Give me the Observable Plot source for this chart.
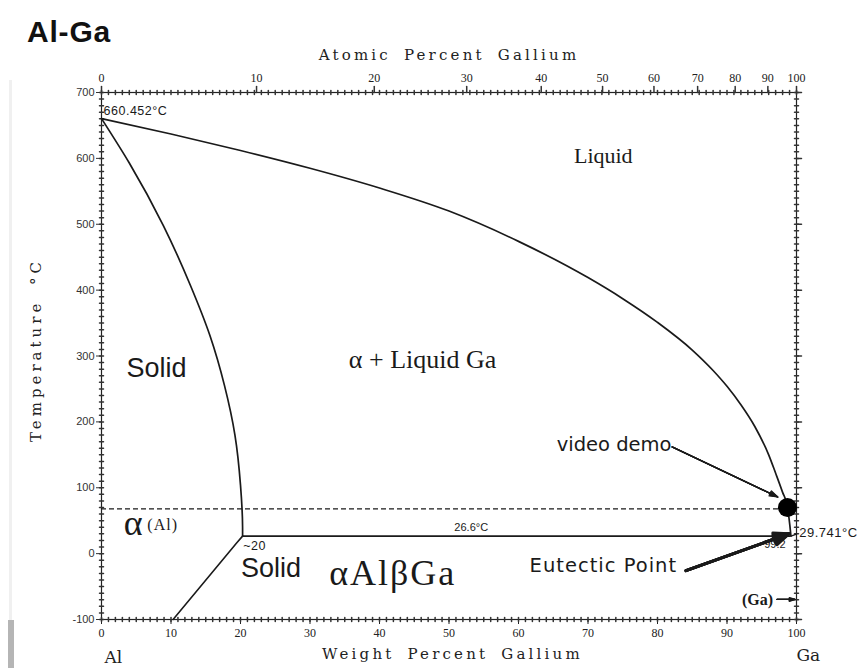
<!DOCTYPE html>
<html><head><meta charset="utf-8">
<script src="https://cdn.jsdelivr.net/npm/d3@7"></script>
<script src="https://cdn.jsdelivr.net/npm/@observablehq/plot@0.6"></script>
<style>
html,body{margin:0;padding:0;background:#fff;}
#wrap{position:relative;width:860px;height:668px;overflow:hidden;background:#fff;}
#title{position:absolute;left:27px;top:17px;font:bold 30px "Liberation Sans",sans-serif;line-height:30px;color:#111;letter-spacing:0.8px;}
#strip{position:absolute;left:8px;top:620px;width:6px;height:48px;background:#b5b5b5;}
#strip2{position:absolute;left:9px;top:80px;width:3px;height:540px;background:#f0f0f0;}
.spaced text{letter-spacing:3.2px;word-spacing:5px;}
.spacedY text{letter-spacing:4px;word-spacing:6px;}
.wide text{letter-spacing:2px;}
.sp05 text{letter-spacing:0.5px;}
.sp1 text{letter-spacing:1px;}
</style></head><body>
<div id="wrap"><div id="strip2"></div><div id="strip"></div><div id="title">Al-Ga</div><div id="chart"></div></div>
<script>
// ---- data ----
const yMajor = [-100, 0, 100, 200, 300, 400, 500, 600, 700];
const yMinor = d3.range(-100, 701, 10);
const wtMajor = [0, 10, 20, 30, 40, 50, 60, 70, 80, 90, 100];
const wtMinor = d3.range(0, 101, 1);
const atMajor = [0, 10, 20, 30, 40, 50, 60, 70, 80, 90, 100];
const massGa = 69.723, massAl = 26.982;
const toWt = a => 100 * a * massGa / (a * massGa + (100 - a) * massAl);

// liquidus (wt% Ga, °C)
const liqW = [0, 10, 20, 30, 40, 50, 60, 70, 75, 80, 85, 88, 90, 92, 94, 96, 97, 98, 98.7, 99.05, 99.2];
const liqT = [660.452, 637, 612, 585, 555, 520, 474, 419, 387, 351, 309, 278, 254, 226, 193, 150, 122, 93, 71, 42, 26.6];
// boundary of (Al) solid solution (ordered by temperature, low to high)
const solT = [26.6, 40, 104, 180, 255, 331, 407, 498, 593, 660.452];
const solW = [20.3, 20.3, 20.0, 19.2, 17.7, 15.6, 12.8, 8.9, 4.0, 0];
// low-temperature boundary
const lowW = [20.3, 19.5, 10.3];
const lowT = [26.6, 17, -100];
// eutectic
const eutT = 26.6, eutW1 = 20.3, eutW2 = 99.2;
const gaMeltT = 29.741;
const dashT = 68, dashW2 = 97.8;
const demoDot = [{w: 98.7, t: 70}];

const liquidus = liqW.map((w, i) => ({w, t: liqT[i]}));
const solvus = solW.map((w, i) => ({w, t: solT[i]}));
const lower = lowW.map((w, i) => ({w, t: lowT[i]}));
const gaSeg = [{w: eutW2, t: eutT}, {w: 100, t: gaMeltT}];

const arrowsThin = [
  {x1: 82.1, y1: 162, x2: 97.3, y2: 86},
  {x1: 97.2, y1: -69.5, x2: 99.8, y2: -69.5}
];
const arrowsThick = [{x1: 84.1, y1: -25.8, x2: 98.9, y2: 30}];
const headAngles = [36, 26, 16, 6];

const startLabels = [
  {w: 0.3, t: 672, s: "660.452°C"},
  {w: 20.4, t: 11, s: "~20"}
];
const midLabels = [
  {w: 53.2, t: 40, s: "26.6°C"},
  {w: 96.9, t: 14, s: "99.2"}
];
const gaMeltLabel = [{w: 100.4, t: 32, s: "29.741°C"}];
const solidLabels = [{w: 7.9, t: 281, s: "Solid"}, {w: 24.4, t: -23, s: "Solid"}];
const serifLabels = [
  {w: 72.2, t: 603, s: "Liquid", size: 22},
  {w: 46.2, t: 294, s: "α + Liquid Ga", size: 26}
];
const comicLabels = [
  {w: 65.5, t: 166, s: "video demo", sp: 0},
  {w: 61.6, t: -18, s: "Eutectic Point", sp: 1}
];
const alphaAl = [{w: 3.2, t: 46, s: "α"}];
const alphaAlSub = [{w: 6.6, t: 44, s: "(Al)"}];
const phaseLabel = [{w: 41.9, t: -30, s: "αAlβGa"}];
const gaLabel = [{w: 94.4, t: -69.5, s: "(Ga)"}];

// ---- chart ----
const tickShape = {draw(ctx, l) { ctx.moveTo(0, 0); ctx.lineTo(0, -l); }};
const ink = "#1a1a1a";

const arrowMarks = headAngles.flatMap(a => [
  Plot.arrow(arrowsThin, {x1: "x1", y1: "y1", x2: "x2", y2: "y2", stroke: ink, strokeWidth: 1.3, headLength: 10, headAngle: a}),
  Plot.arrow(arrowsThick, {x1: "x1", y1: "y1", x2: "x2", y2: "y2", stroke: ink, strokeWidth: 3, headLength: 8, headAngle: a + 10})
]);

const chart = Plot.plot({
  width: 860, height: 668,
  marginLeft: 101, marginRight: 64, marginTop: 92, marginBottom: 49,
  x: {domain: [0, 100], axis: null},
  y: {domain: [-100, 700], axis: null},
  style: {fontFamily: "Liberation Serif", background: "transparent", color: ink, overflow: "visible"},
  marks: [
    Plot.frame({stroke: "#222", strokeWidth: 1.2}),
    // left axis
    Plot.axisY(yMajor, {anchor: "left", tickSize: 5, tickPadding: 2, fontSize: 11, fontFamily: "Liberation Sans", color: "#333", label: null, tickFormat: d => d}),
    Plot.vector(yMinor, {x: 0, y: d => d, length: 4, rotate: 90, anchor: "middle", shape: tickShape, stroke: "#333"}),
    // right axis
    Plot.vector(yMinor, {x: 100, y: d => d, length: 4, rotate: 90, anchor: "middle", shape: tickShape, stroke: "#333"}),
    Plot.vector(yMajor, {x: 100, y: d => d, length: 5, rotate: 90, anchor: "start", shape: tickShape, stroke: "#333"}),
    // bottom axis
    Plot.axisX(wtMajor, {anchor: "bottom", tickSize: 5, tickPadding: 4, fontSize: 12, fontFamily: "Liberation Serif", color: "#222", label: null, tickFormat: d => d}),
    Plot.vector(wtMinor, {x: d => d, frameAnchor: "bottom", length: 4, anchor: "middle", shape: tickShape, stroke: "#333"}),
    // top axis (atomic percent)
    Plot.vector(wtMinor, {x: d => d, frameAnchor: "top", length: 4, anchor: "middle", shape: tickShape, stroke: "#333"}),
    Plot.vector(atMajor, {x: toWt, frameAnchor: "top", length: 6, anchor: "start", shape: tickShape, stroke: "#333"}),
    Plot.text(atMajor, {x: toWt, frameAnchor: "top", lineAnchor: "middle", textAnchor: "middle", dy: -14, text: d => String(d), fontSize: 12, fontFamily: "Liberation Serif", fill: "#222"}),
    // axis titles
    Plot.text(["Atomic Percent Gallium"], {x: 50, frameAnchor: "top", lineAnchor: "middle", textAnchor: "middle", dy: -37, text: d => d, fontSize: 15, fontFamily: "DejaVu Serif", fill: "#222", className: "spaced"}),
    Plot.text(["Weight Percent Gallium"], {x: 50.5, frameAnchor: "bottom", lineAnchor: "middle", textAnchor: "middle", dy: 35, text: d => d, fontSize: 15, fontFamily: "DejaVu Serif", fill: "#222", className: "spaced"}),
    Plot.text(["Temperature °C"], {frameAnchor: "left", lineAnchor: "middle", textAnchor: "middle", dx: -65, dy: -6, rotate: -90, text: d => d, fontSize: 15, fontFamily: "DejaVu Serif", fill: "#222", className: "spacedY"}),
    Plot.text(["Al"], {x: 1.7, frameAnchor: "bottom", lineAnchor: "middle", textAnchor: "middle", dy: 38, text: d => d, fontSize: 17, fontFamily: "DejaVu Serif", fill: "#222"}),
    Plot.text(["Ga"], {x: 101.7, frameAnchor: "bottom", lineAnchor: "middle", textAnchor: "middle", dy: 36, text: d => d, fontSize: 17, fontFamily: "DejaVu Serif", fill: "#222"}),
    // phase boundaries
    Plot.line(liquidus, {x: "w", y: "t", curve: "monotone-x", stroke: ink, strokeWidth: 1.7}),
    Plot.line(solvus, {x: "w", y: "t", curve: "monotone-y", stroke: ink, strokeWidth: 1.7}),
    Plot.line(lower, {x: "w", y: "t", stroke: ink, strokeWidth: 1.6}),
    Plot.line(gaSeg, {x: "w", y: "t", stroke: ink, strokeWidth: 1.4}),
    Plot.ruleY([eutT], {x1: eutW1, x2: eutW2, stroke: ink, strokeWidth: 1.9}),
    Plot.ruleY([dashT], {x1: 0, x2: dashW2, stroke: ink, strokeWidth: 1.4, strokeDasharray: "5,3"}),
    Plot.dot(demoDot, {x: "w", y: "t", r: 9.5, fill: "black"}),
    // arrows (layered heads read as filled)
    ...arrowMarks,
    // labels
    Plot.text(startLabels, {x: "w", y: "t", text: "s", textAnchor: "start", fontSize: 12.5, fontFamily: "Liberation Sans", fill: ink, className: "sp05"}),
    Plot.text(midLabels, {x: "w", y: "t", text: "s", textAnchor: "middle", fontSize: 11, fontFamily: "Liberation Sans", fill: ink}),
    Plot.text(gaMeltLabel, {x: "w", y: "t", text: "s", textAnchor: "start", fontSize: 13, fontFamily: "Liberation Sans", fill: ink, className: "sp05"}),
    Plot.text(solidLabels, {x: "w", y: "t", text: "s", textAnchor: "middle", fontSize: 27, fontFamily: "Liberation Sans", fill: ink}),
    Plot.text(serifLabels, {x: "w", y: "t", text: "s", textAnchor: "middle", fontSize: d => d.size, fontFamily: "Liberation Serif", fill: ink}),
    Plot.text(comicLabels.filter(d => !d.sp), {x: "w", y: "t", text: "s", textAnchor: "start", fontSize: 19.5, fontFamily: "DejaVu Sans", fill: ink}),
    Plot.text(comicLabels.filter(d => d.sp), {x: "w", y: "t", text: "s", textAnchor: "start", fontSize: 19.5, fontFamily: "DejaVu Sans", fill: ink, className: "sp1"}),
    Plot.text(alphaAl, {x: "w", y: "t", text: "s", textAnchor: "start", fontSize: 36, fontFamily: "Liberation Serif", fill: ink}),
    Plot.text(alphaAlSub, {x: "w", y: "t", text: "s", textAnchor: "start", fontSize: 16, fontFamily: "Liberation Serif", fill: ink, className: "sp1"}),
    Plot.text(phaseLabel, {x: "w", y: "t", text: "s", textAnchor: "middle", fontSize: 36, fontFamily: "Liberation Serif", fill: ink, className: "wide"}),
    Plot.text(gaLabel, {x: "w", y: "t", text: "s", textAnchor: "middle", fontSize: 16, fontWeight: "bold", fontFamily: "Liberation Serif", fill: ink})
  ]
});
document.getElementById("chart").appendChild(chart);
</script>
</body></html>
